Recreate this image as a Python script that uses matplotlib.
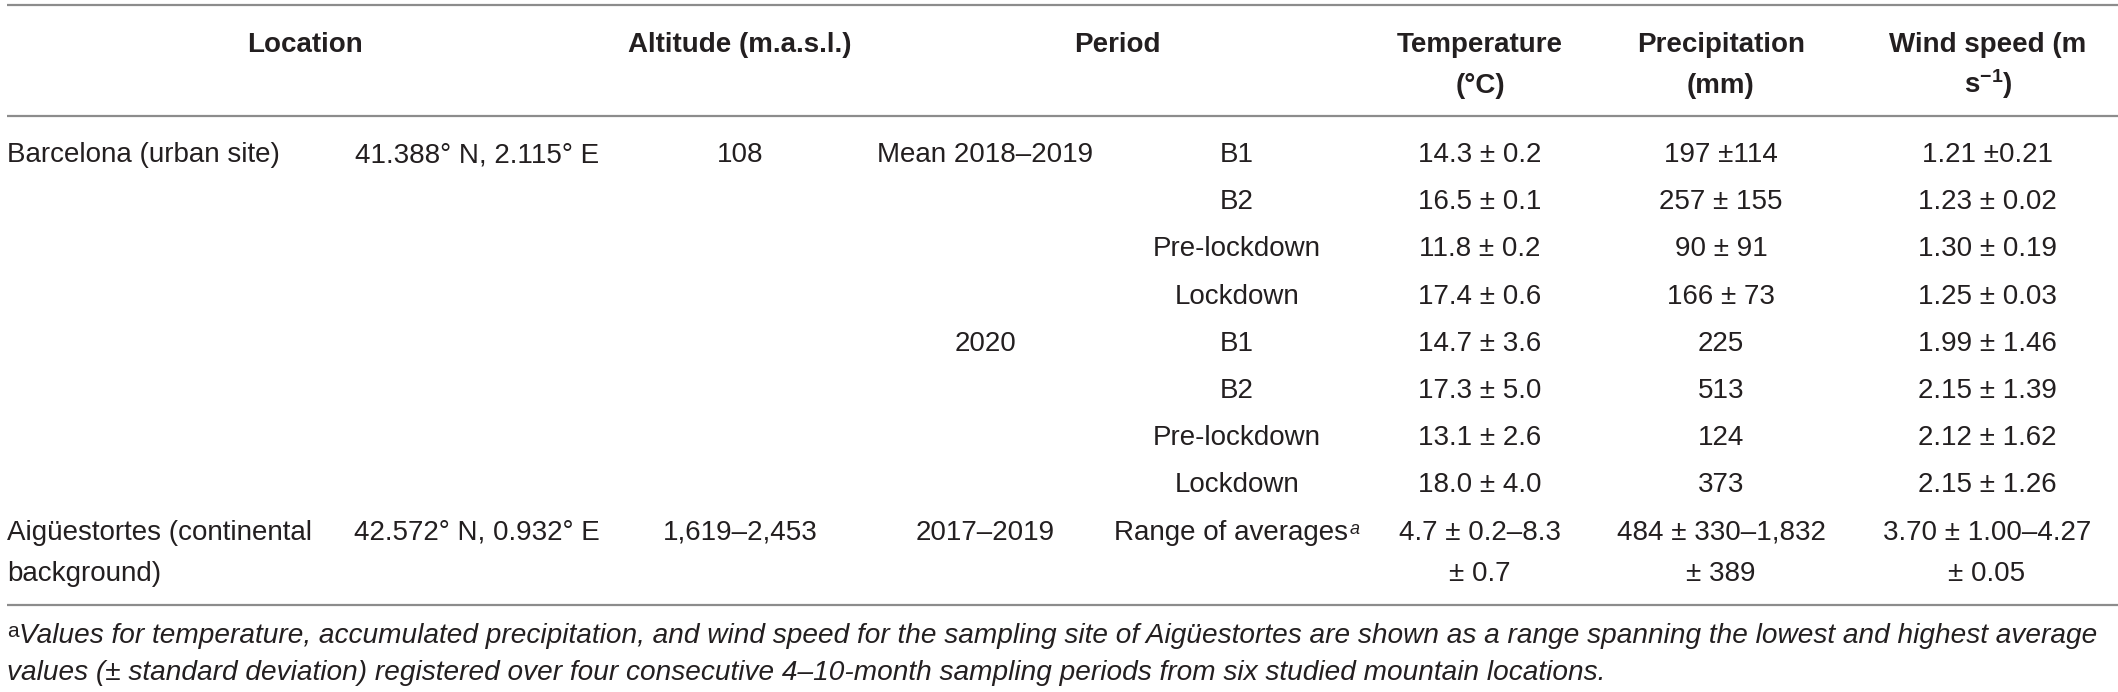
import matplotlib.pyplot as plt

plt.rcParams['font.family'] = ['Liberation Sans', 'DejaVu Sans']
plt.rcParams['mathtext.fontset'] = 'custom'
plt.rcParams['mathtext.rm'] = 'Liberation Sans:bold'
plt.rcParams['mathtext.it'] = 'Liberation Sans:bold'
plt.rcParams['mathtext.bf'] = 'Liberation Sans:bold'

# table content
headers = ["Location", "Altitude (m.a.s.l.)", "Period", "Temperature\n(°C)",
           "Precipitation\n(mm)", "Wind speed (m\ns$^{-1}$)"]
locations = ["Barcelona (urban site)", "", "", "", "", "", "", "",
             "Aigüestortes (continental\nbackground)"]
coordinates = ["41.388° N, 2.115° E", "", "", "", "", "", "", "",
               "42.572° N, 0.932° E"]
altitudes = ["108", "", "", "", "", "", "", "", "1,619–2,453"]
years = ["Mean 2018–2019", "", "", "", "2020", "", "", "", "2017–2019"]
periods = ["B1", "B2", "Pre-lockdown", "Lockdown", "B1", "B2",
           "Pre-lockdown", "Lockdown", "Range of averages"]
temperature = ["14.3 ± 0.2", "16.5 ± 0.1", "11.8 ± 0.2", "17.4 ± 0.6",
               "14.7 ± 3.6", "17.3 ± 5.0", "13.1 ± 2.6", "18.0 ± 4.0",
               "4.7 ± 0.2–8.3\n± 0.7"]
precipitation = ["197 ±114", "257 ± 155", "90 ± 91", "166 ± 73", "225", "513",
                 "124", "373", "484 ± 330–1,832\n± 389"]
wind = ["1.21 ±0.21", "1.23 ± 0.02", "1.30 ± 0.19", "1.25 ± 0.03",
        "1.99 ± 1.46", "2.15 ± 1.39", "2.12 ± 1.62", "2.15 ± 1.26",
        "3.70 ± 1.00–4.27\n± 0.05"]
footnote = ["Values for temperature, accumulated precipitation, and wind speed for the sampling site of Aigüestortes are shown as a range spanning the lowest and highest average",
            "values (± standard deviation) registered over four consecutive 4–10-month sampling periods from six studied mountain locations."]

W, H = 2118, 692
fig = plt.figure(figsize=(W / 100, H / 100), dpi=100)
ax = fig.add_axes([0, 0, 1, 1])
ax.set_xlim(0, W)
ax.set_ylim(H, 0)
ax.axis('off')

ink = '#231f20'
rule = '#8c8c8c'
fs = 20
line_gap = 41

def cell(x, y, txt, ha='center', **kw):
    for k, part in enumerate(txt.split('\n')):
        if part:
            ax.text(x, y + k * line_gap, part, ha=ha, va='baseline',
                    fontsize=fs, color=ink, **kw)

# rules
ax.hlines([5, 116, 605], 7, W, color=rule, lw=1.6)

# header
head_x = [305, 740, 1117, 1480, 1721, 1988]
for x, h in zip(head_x, headers):
    cell(x, 52, h, fontweight='bold')

# body
col_x = [7, 477, 740, 985, 1237, 1480, 1721, 1987]
row0, row_step = 162, 47.2
for i in range(len(periods)):
    y = row0 + i * row_step
    cell(col_x[0], y, locations[i], ha='left')
    cell(col_x[1], y, coordinates[i])
    cell(col_x[2], y, altitudes[i])
    cell(col_x[3], y, years[i])
    cell(col_x[5], y, temperature[i])
    cell(col_x[6], y, precipitation[i])
    cell(col_x[7], y, wind[i])
    if periods[i] == "Range of averages":
        t = ax.text(col_x[4] - 6, y, periods[i], ha='center', va='baseline',
                    fontsize=fs, color=ink)
        ax.annotate('a', xy=(1, 1), xycoords=t, xytext=(1, -1),
                    textcoords='offset points', ha='left', va='top',
                    fontsize=13, color=ink, style='italic')
    else:
        cell(col_x[4], y, periods[i])

# footnote
ax.text(7, 637, 'a', ha='left', va='baseline', fontsize=15, color=ink)
ax.text(19, 643, footnote[0], ha='left', va='baseline', fontsize=20.2,
        color=ink, style='italic')
ax.text(7, 680, footnote[1], ha='left', va='baseline', fontsize=20.2,
        color=ink, style='italic')

fig.savefig('out.png', dpi=100)
